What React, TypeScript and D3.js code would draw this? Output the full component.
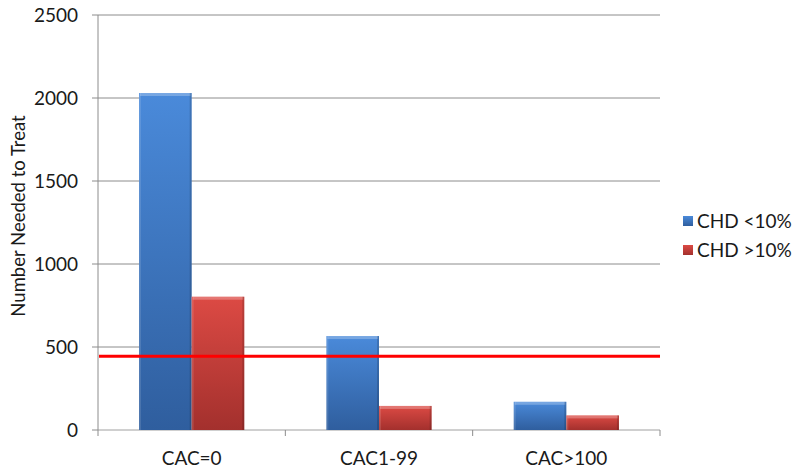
import React from "react";
import * as d3 from "d3";

const categories = ["CAC=0", "CAC1-99", "CAC>100"];
const seriesNames = ["CHD <10%", "CHD >10%"];
const chdLow = [2030, 566, 170];
const chdHigh = [803, 145, 88];
const referenceLine = 445;
const yTicks = [0, 500, 1000, 1500, 2000, 2500];

const W = 800, H = 473;
const M = { left: 98, right: 140, top: 15, bottom: 43 };
const FONT = "Lato, 'Open Sans', sans-serif";

export default function App() {
  const x = d3.scaleBand<string>().domain(categories).range([M.left, W - M.right]).paddingInner(0).paddingOuter(0);
  const y = d3.scaleLinear().domain([0, 2500]).range([H - M.bottom, M.top]);
  const inner = d3.scaleBand<string>().domain(seriesNames).range([0, x.bandwidth()]).paddingInner(0).paddingOuter(0.78);
  const series = [chdLow, chdHigh];
  const fills = ["url(#gBlue)", "url(#gRed)"];
  const x0 = M.left, x1 = W - M.right;

  return (
    <svg width={W} height={H} style={{ position: "absolute", left: 0, top: 0, background: "#fff" }} fontFamily={FONT}>
      <defs>
        <linearGradient id="gBlue" x1="0" y1="0" x2="0" y2="1">
          <stop offset="0" stopColor="#4A8ADA" />
          <stop offset="1" stopColor="#2F5E9E" />
        </linearGradient>
        <linearGradient id="gRed" x1="0" y1="0" x2="0" y2="1">
          <stop offset="0" stopColor="#DC4A44" />
          <stop offset="1" stopColor="#A3302D" />
        </linearGradient>
      </defs>
      {yTicks.map((t) => (
        <g key={t}>
          <line x1={x0} x2={x1} y1={y(t)} y2={y(t)} stroke={t === 0 ? "#A0A0A0" : "#8C8C8C"} strokeWidth={1} />
          <line x1={x0 - 6} x2={x0} y1={y(t)} y2={y(t)} stroke="#8C8C8C" />
          <text x={x0 - 20} y={y(t)} dy="0.38em" textAnchor="end" fontSize={19} fill="#1a1a1a">{t}</text>
        </g>
      ))}
      <line x1={x0} x2={x0} y1={M.top} y2={y(0) + 6} stroke="#8C8C8C" />
      {categories.map((c) => (
        <line key={c} x1={x(c)! + x.bandwidth()} x2={x(c)! + x.bandwidth()} y1={y(0)} y2={y(0) + 6} stroke="#8C8C8C" />
      ))}
      {series.map((vals, si) =>
        categories.map((c, ci) => {
          const bx = x(c)! + inner(seriesNames[si])!;
          const bw = inner.bandwidth();
          const by = y(vals[ci]);
          const bh = y(0) - by;
          return (
            <g key={`${si}-${ci}`}>
              <rect x={bx} y={by} width={bw} height={bh} fill={fills[si]} />
              <rect x={bx + 1} y={by} width={bw - 2} height={Math.min(3, bh)} fill="#fff" opacity={0.25} />
              <rect x={bx} y={by} width={2} height={bh} fill="#fff" opacity={0.12} />
              <rect x={bx + bw - 2} y={by} width={2} height={bh} fill="#000" opacity={0.15} />
            </g>
          );
        })
      )}
      <line x1={x0 + 1} x2={x1} y1={y(referenceLine)} y2={y(referenceLine)} stroke="#FF0000" strokeWidth={3} />
      {categories.map((c) => (
        <text key={c} x={x(c)! + x.bandwidth() / 2} y={y(0) + 35} textAnchor="middle" fontSize={19} fill="#1a1a1a">{c}</text>
      ))}
      <text transform={`translate(25,216) rotate(-90)`} textAnchor="middle" fontSize={18.5} fill="#1a1a1a">Number Needed to Treat</text>
      {seriesNames.map((s, i) => (
        <g key={s} transform={`translate(683,${221 + i * 29})`}>
          <rect x={0} y={-5} width={10} height={10} fill={fills[i]} />
          <text x={14} y={0} dy="0.36em" fontSize={19} fill="#1a1a1a">{s}</text>
        </g>
      ))}
    </svg>
  );
}
